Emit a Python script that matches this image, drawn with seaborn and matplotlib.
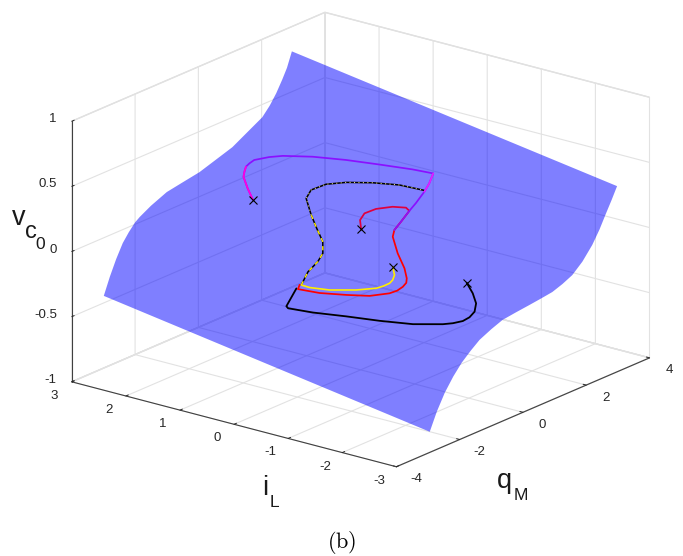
import seaborn as sns
from matplotlib import pyplot as plt
from mpl_toolkits.mplot3d import proj3d
from mpl_toolkits.mplot3d.art3d import Poly3DCollection

sns.set_theme(style="white")
plt.rcParams['font.family'] = ['Liberation Sans', 'DejaVu Sans']
plt.rcParams['grid.color'] = '#e2e2e2'
plt.rcParams['grid.linewidth'] = 0.8
plt.rcParams['axes3d.grid'] = True
plt.rcParams['axes.unicode_minus'] = False

il_front = -3
q_front = [-2.945, -2.72, -2.47, -2.2, -1.937, -1.65, -1.37, -1.0, -0.646, -0.22, 0.205,
           0.56, 0.93, 1.25, 1.56, 1.88, 2.19, 2.42, 2.63, 2.8, 2.976]
v_front = [-0.842, -0.71, -0.592, -0.495, -0.418, -0.355, -0.301, -0.258, -0.224, -0.21, -0.198,
           -0.187, -0.174, -0.146, -0.11, -0.04, 0.055, 0.15, 0.254, 0.335, 0.425]
il_back = 3
q_back = [-2.99, -2.8, -2.6, -2.39, -2.2, -2, -1.855, -1.5, -1, -0.5, 0.035,
          0.5, 1.074, 1.5, 2.02, 2.25, 2.46, 2.65, 2.8, 2.955]
v_back = [-0.446, -0.32, -0.205, -0.103, -0.04, 0.015, 0.041, 0.09, 0.143, 0.165, 0.188,
          0.225, 0.271, 0.33, 0.402, 0.465, 0.54, 0.625, 0.70, 0.81]

# slow part shared by the red and magenta trajectories
shared_q = [1.274, 0.94, 0.617, 0.404, -0.017, -0.374, -0.637, -0.77, -0.93, -1.087, -1.213, -1.456, -1.648, -1.85, -1.961, -1.85]
shared_il = [-0.155, -0.196, -0.262, -0.357, -0.694, -1.029, -1.225, -1.294, -1.323, -1.312, -1.243, -1.017, -0.699, -0.323, 0.012, 0.046]
shared_v = [0.104, 0.060, 0.037, 0.018, -0.028, -0.070, -0.098, -0.111, -0.122, -0.136, -0.151, -0.170, -0.177, -0.182, -0.177, -0.159]

magenta_q = [-0.18, 0.078, 0.364, 0.522, 0.687, 0.823, 0.981, 1.193, 1.345, 1.597, 1.83, 2.032, 2.164, 2.234, 2.052, 1.84, 1.506, 1.274, 0.94, 0.617]
magenta_il = [1.889, 2.134, 2.379, 2.455, 2.522, 2.538, 2.542, 2.389, 2.226, 1.823, 1.342, 0.845, 0.308, -0.035, -0.066, -0.101, -0.141, -0.155, -0.196, -0.262]
magenta_v = [0.121, 0.152, 0.185, 0.198, 0.214, 0.223, 0.232, 0.249, 0.260, 0.271, 0.274, 0.272, 0.279, 0.278, 0.222, 0.186, 0.138, 0.104, 0.060, 0.037]

red_q = [0.241, 0.495, 0.748, 1.011, 1.213, 1.314]
red_il = [0.131, 0.301, 0.367, 0.308, 0.119, -0.07]
red_v = [0.038, 0.065, 0.083, 0.096, 0.112, 0.115]

black_q = [-0.051, -0.283, -0.536, -0.799, -1.018, -1.163, -1.304, -1.415, -1.688, -1.921, -2.093, -2.244, -2.335, -2.315, -1.961]
black_il = [-1.99, -2.238, -2.448, -2.573, -2.608, -2.569, -2.468, -2.348, -1.954, -1.475, -0.959, -0.432, -0.024, 0.019, 0.041]
black_v = [-0.110, -0.140, -0.168, -0.191, -0.207, -0.225, -0.238, -0.247, -0.261, -0.263, -0.267, -0.279, -0.281, -0.272, -0.175]

yellow_q = [-0.466, -0.686, -0.851, -0.985, -1.107, -1.223, -1.446, -1.688, -1.82, -1.84]
yellow_il = [-0.867, -1.027, -1.09, -1.111, -1.07, -1.004, -0.765, -0.414, -0.122, 0.021]
yellow_v = [-0.066, -0.089, -0.103, -0.112, -0.125, -0.137, -0.153, -0.166, -0.165, -0.159]

# the branch all of them climb after the jump
climb_q = [-1.84, -1.486, -1.163, -0.91, -0.573, -0.258, 0.061, 0.483, 0.785, 1.107, 1.33, 1.565, 1.759, 1.87]
climb_il = [0.021, 0.106, 0.112, 0.167, 0.365, 0.661, 0.95, 1.29, 1.376, 1.287, 1.048, 0.695, 0.317, -0.081]
climb_v = [-0.159, -0.105, -0.060, -0.029, 0.004, 0.041, 0.079, 0.125, 0.149, 0.169, 0.186, 0.197, 0.201, 0.191]

q_ticks = [-4, -2, 0, 2, 4]
il_ticks = [-3, -2, -1, 0, 1, 2, 3]
v_ticks = [-1, -0.5, 0, 0.5, 1]
v_labels = ['-1', '-0.5', '0', '0.5', '1']

fig = plt.figure(figsize=(6.83, 5.56), dpi=100)
ax = fig.add_axes([39.35 / 683, -4.85 / 556, 625.7 / 683, 625.7 / 556], projection='3d',
                  proj_type='ortho', computed_zorder=False)
ax.view_init(elev=19.6, azim=-142.05)
ax.set_box_aspect((1, 1, 0.672))

# one polygon for the whole sheet, so alpha leaves no seams between facets
sheet = [(q, il_front, v) for q, v in zip(q_front, v_front)]
sheet += [(q, il_back, v) for q, v in zip(q_back[::-1], v_back[::-1])]
ax.add_collection3d(Poly3DCollection([sheet], facecolor=(0, 0, 1, 0.5), edgecolor='none', linewidth=0, zorder=1))

# black + yellow overlap on the climbing branch
ax.plot(black_q, black_il, black_v, color='black', lw=1.3, zorder=3)
ax.plot(climb_q, climb_il, climb_v, color='black', lw=1.1, zorder=3)
ax.plot(yellow_q, yellow_il, yellow_v, color='#ffee00', lw=1.2, zorder=4)
ax.plot(climb_q[:7], climb_il[:7], climb_v[:7], color='#ffee00', lw=1.0, ls=(0, (3, 3)), zorder=4)
ax.plot(climb_q[6:], climb_il[6:], climb_v[6:], color='#d8d080', lw=0.8, ls=(0, (1, 3)), zorder=4)
ax.plot(shared_q, shared_il, shared_v, color='#ff0000', lw=1.25, zorder=5)
ax.plot(red_q + shared_q[:1], red_il + shared_il[:1], red_v + shared_v[:1], color='#e0003c', lw=1.25, zorder=5)
ax.plot(magenta_q, magenta_il, magenta_v, color='#8a10ff', lw=1.25, zorder=6)
ax.plot(magenta_q[:5], magenta_il[:5], magenta_v[:5], color='#ff00e0', lw=1.25, zorder=7)
ax.plot(magenta_q[13:16], magenta_il[13:16], magenta_v[13:16], color='#e020ff', lw=1.25, zorder=7)

# start markers
ax.plot([magenta_q[0], red_q[0], black_q[0], yellow_q[0]],
        [magenta_il[0], red_il[0], black_il[0], yellow_il[0]],
        [magenta_v[0], red_v[0], black_v[0], yellow_v[0]],
        ls='none', marker='x', color='black', ms=6, mew=0.8, zorder=8)

ax.set_xlim(-4, 4, view_margin=1e-4)
ax.set_ylim(-3, 3, view_margin=1e-4)
ax.set_zlim(-1, 1, view_margin=1e-4)
ax.set_xticks(q_ticks)
ax.set_yticks(il_ticks)
ax.set_zticks(v_ticks)
ax.zaxis.set_ticks_position('upper')

for axis in (ax.xaxis, ax.yaxis, ax.zaxis):
    axis.set_tick_params(label1On=False, label2On=False)
    axis.set_pane_color('white')
    axis.pane.set_edgecolor('#dcdcdc')
    axis.line.set_color('#404040')
    axis.line.set_linewidth(0.8)
    axis._axinfo['tick']['inward_factor'] = 0.0
    axis._axinfo['tick']['outward_factor'] = 0.12
    axis._axinfo['tick']['linewidth'] = {True: 0.7, False: 0.5}
    axis._axinfo['tick']['color'] = '#404040'


def tick_label(q, il, v, text, ha):
    # the 3d axis pad can't put tick labels where matlab has them, so project them here
    x2, y2, _ = proj3d.proj_transform(q, il, v, ax.get_proj())
    ax.text2D(x2, y2, text, transform=ax.transData, fontsize=9.5, color='#262626', ha=ha, va='center')


for q in q_ticks:
    tick_label(q, -3.36, -1.057, str(q), 'center')
for il in il_ticks:
    tick_label(-4.55, il, -1.05, str(il), 'center')
for v, text in zip(v_ticks, v_labels):
    tick_label(-4, 3.277, v - 0.015, text, 'right')

# axis labels piece by piece, matlab drops the subscripts further than mathtext
label_parts = [('v', 19, 225, 19.5), ('c', 31, 238, 17), ('0', 40, 249, 12.5),
               ('i', 265, 495, 19.5), ('L', 274, 507, 12.5),
               ('q', 504, 488, 19.5), ('M', 521, 500, 12.5)]
for text, x, y, size in label_parts:
    fig.text(x / 683, 1 - y / 556, text, fontsize=size, ha='center', va='baseline', color='#1a1a1a')
fig.text(342 / 683, 1 - 542 / 556, r'$\mathrm{(b)}$', fontsize=16, ha='center', va='center',
         color='black', math_fontfamily='cm')

fig.savefig('out.png', dpi=100)
